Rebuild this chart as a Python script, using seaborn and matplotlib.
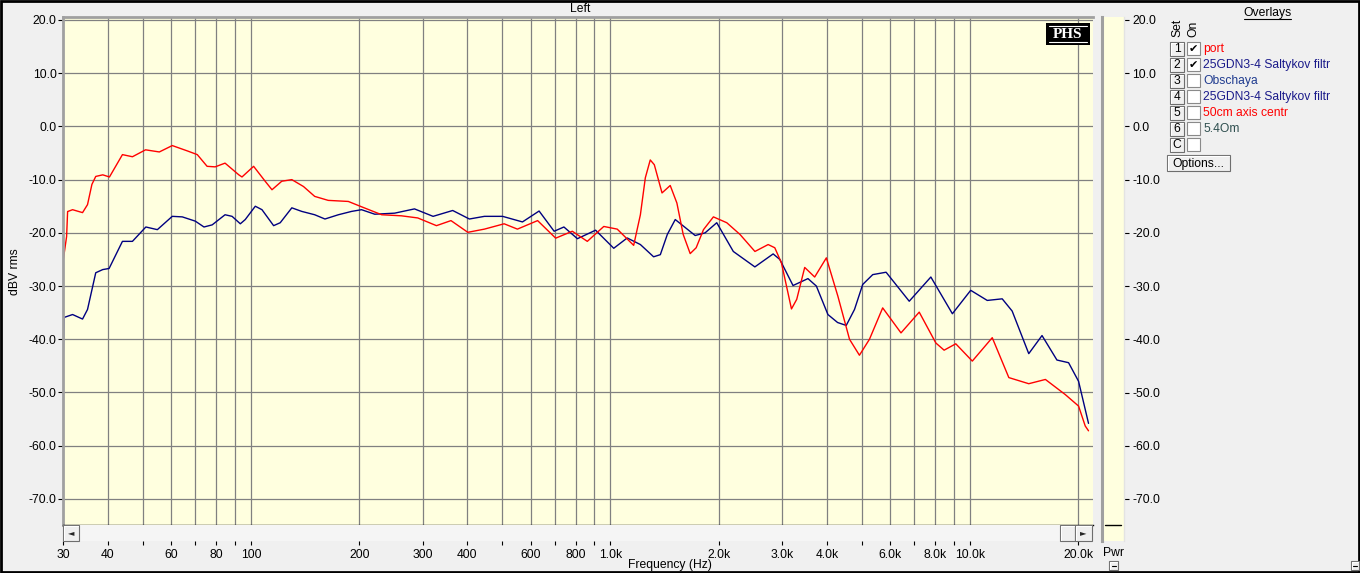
import matplotlib
matplotlib.use('Agg')
import matplotlib.pyplot as plt
import seaborn as sns
from matplotlib.patches import Rectangle
from matplotlib.ticker import NullLocator

# ---------------------- DATA ----------------------
# overlay 1 "port" (red)
red_freq = [30, 30.7, 30.9, 31.9, 34.0, 35.1, 36.1, 37.0, 38.7, 40.4, 43.9, 46.8,
            50.9, 55.6, 60.4, 66.5, 70.9, 75.5, 79.5, 84.7, 92.5, 94.4,
            101.7, 109.5, 114.4, 121.8, 129.9, 140, 150.4, 164, 186.5, 203,
            231, 262, 291, 328, 360, 401, 446, 506, 551, 627,
            704, 783, 862, 958, 1044, 1160, 1211, 1250, 1290, 1324, 1391, 1466, 1530,
            1593, 1666, 1731, 1814, 1933, 2106, 2292, 2522, 2745, 2864, 2989, 3187,
            3296, 3469, 3698, 3985, 4290, 4622, 4925, 5252, 5716, 6427, 7223,
            8035, 8472, 9129, 10148, 11531, 12823, 14568, 16208, 18414, 20044,
            20918, 21362]
red_db = [-25.4, -20.7, -16.0, -15.65, -16.2, -14.7, -10.9, -9.4, -9.1, -9.5, -5.3, -5.7,
          -4.4, -4.8, -3.6, -4.6, -5.3, -7.5, -7.6, -6.9, -9.1, -9.5,
          -7.5, -10.3, -11.9, -10.3, -10.0, -11.3, -13.15, -13.9, -14.1, -15.1,
          -16.6, -16.8, -17.2, -18.65, -17.7, -19.9, -19.3, -18.3, -19.3, -17.7,
          -21.0, -19.7, -21.6, -18.8, -19.3, -22.35, -16.6, -9.65, -6.3, -7.2, -12.5, -11.1, -14.4,
          -20.3, -23.9, -22.8, -19.4, -17.0, -18.1, -20.3, -23.5, -22.2, -22.8, -25.65, -34.3,
          -32.5, -26.5, -28.3, -24.7, -31.9, -40.0, -43.0, -40.0, -34.1, -38.8, -34.9,
          -40.7, -42.05, -40.85, -44.1, -39.7, -47.2, -48.35, -47.55, -50.4, -52.55,
          -56.3, -57.2]

# overlay 2 "25GDN3-4 Saltykov filtr" (navy)
blue_freq = [30, 30.2, 31.9, 34.0, 35.1, 37.0, 38.7, 40.3, 43.9, 46.8,
             51.0, 54.9, 60.4, 64.4, 70.0, 74.0, 78.0, 84.7, 88.6, 93.4,
             96.4, 102.8, 107.3, 115.6, 120.6, 129.9, 138.4, 150.4, 160.6, 175,
             190.5, 203, 221, 251, 285, 321, 364, 405, 446, 501,
             569, 633, 697, 742, 809, 909, 1021, 1113, 1211, 1318, 1376, 1439, 1514,
             1720, 1833, 1975, 2196, 2521, 2834, 2958, 3219, 3542, 3738,
             4025, 4282, 4526, 4772, 5030, 5363, 5842, 6776, 7782, 8933, 10044, 11167,
             12291, 13100, 14568, 15860, 17450, 18800, 20044, 21362]
blue_db = [-45.3, -35.9, -35.35, -36.2, -34.4, -27.5, -26.9, -26.7, -21.6, -21.6,
           -18.9, -19.4, -16.9, -17.0, -17.8, -18.9, -18.5, -16.6, -16.9, -18.3,
           -17.5, -15.0, -15.65, -18.65, -18.1, -15.3, -15.97, -16.6, -17.4, -16.6,
           -15.97, -15.65, -16.5, -16.3, -15.5, -16.9, -15.8, -17.4, -16.9, -16.9,
           -17.95, -15.9, -19.7, -18.9, -21.1, -19.5, -22.9, -20.96, -22.2, -24.5, -24.1, -20.3, -17.5,
           -20.5, -20.0, -18.1, -23.5, -26.4, -23.96, -25.0, -29.9, -28.6, -30.0,
           -35.35, -36.85, -37.4, -34.4, -29.7, -27.85, -27.4, -32.85, -28.3, -35.2, -30.8, -32.7,
           -32.4, -34.7, -42.7, -39.3, -43.9, -44.4, -47.9, -55.8]

grid_freqs = [40, 50, 60, 70, 80, 90, 100, 200, 300, 400, 500, 600, 700, 800, 900,
              1000, 2000, 3000, 4000, 5000, 6000, 7000, 8000, 9000, 10000, 20000]
tick_freqs = [30] + grid_freqs
tick_names = ['30', '40', '', '60', '', '80', '', '100', '200', '300', '400', '', '600', '',
              '800', '', '1.0k', '2.0k', '3.0k', '4.0k', '', '6.0k', '', '8.0k', '', '10.0k', '20.0k']
db_ticks = [20, 10, 0, -10, -20, -30, -40, -50, -60, -70]

overlay_names = ['port', '25GDN3-4 Saltykov filtr', 'Obschaya',
                 '25GDN3-4 Saltykov filtr', '50cm axis centr', '5.4Om', '']
overlay_colors = ['#FF0000', '#1A1A8A', '#1F3B8F', '#1A1A8A', '#FF0000', '#2F4F4F', 'black']
overlay_keys = ['1', '2', '3', '4', '5', '6', 'C']
overlay_on = [True, True, False, False, False, False, False]

# ---------------------- STYLE ----------------------
sns.set_theme(style="white")
plt.rcParams['font.family'] = ['Liberation Sans', 'DejaVu Sans']
plt.rcParams['font.size'] = 8.7

W, H = 1360, 573
BG = '#F0F0F0'
YELLOW = '#FFFFDF'
GRID = '#808080'


def box(x0, y0, x1, y1):
    return [x0 / W, 1 - y1 / H, (x1 - x0) / W, (y1 - y0) / H]


fig = plt.figure(figsize=(13.6, 5.73), dpi=100, facecolor=BG)

XMIN, XMAX = 30, 21984
YTOP, YBOT = 20.56, -74.9

# ---------------------- main plot ----------------------
ax = fig.add_axes(box(63, 17, 1093, 525), facecolor=YELLOW)
ax.set_xscale('log')
sns.lineplot(x=blue_freq, y=blue_db, ax=ax, color='#000080', linewidth=1,
             sort=False, estimator=None)
sns.lineplot(x=red_freq, y=red_db, ax=ax, color='#FF0000', linewidth=1,
             sort=False, estimator=None)
ax.set_xlim(XMIN, XMAX)
ax.set_ylim(YBOT, YTOP)
ax.set_xticks(grid_freqs)
ax.set_xticklabels([])
ax.xaxis.set_minor_locator(NullLocator())
ax.set_yticks(db_ticks)
ax.set_yticklabels([f"{v:.1f}" for v in db_ticks])
ax.tick_params(axis='x', bottom=False, length=0)
ax.tick_params(axis='y', left=True, direction='out', length=3.3, width=0.8,
               color='black', pad=1.2, labelsize=8.7, labelcolor='black')
ax.grid(True, color=GRID, linewidth=0.9)
ax.set_axisbelow(True)
ax.set_xlabel('')
ax.set_ylabel('')
for side in ['left', 'top']:
    ax.spines[side].set_color('#A0A0A0')
    ax.spines[side].set_linewidth(2)
ax.spines['bottom'].set_color('black')
ax.spines['bottom'].set_linewidth(1)
ax.spines['right'].set_visible(False)

# ---------------------- scrollbar + frequency ticks ----------------------
sc = fig.add_axes(box(63, 525, 1093, 541), facecolor='#F5F5F5')
sc.set_xscale('log')
sc.set_xlim(XMIN, XMAX)
sc.set_ylim(0, 1)
sc.set_yticks([])
sc.set_xticks(tick_freqs)
sc.set_xticklabels(tick_names)
sc.xaxis.set_minor_locator(NullLocator())
sc.tick_params(axis='x', bottom=True, direction='out', length=3, width=0.8,
               color='black', pad=2.5, labelsize=8.7, labelcolor='black')
for side in sc.spines:
    sc.spines[side].set_visible(False)

# ---------------------- Pwr bar ----------------------
pw = fig.add_axes(box(1102, 17, 1124, 541), facecolor=YELLOW)
pw.set_xlim(0, 1)
pw.set_ylim(-77.9, YTOP)
pw.set_xticks([])
pw.yaxis.tick_right()
pw.set_yticks(db_ticks)
pw.set_yticklabels([f"{v:.1f}" for v in db_ticks])
pw.tick_params(axis='y', right=True, left=False, direction='out', length=3.5,
               width=0.8, color='black', pad=2.5, labelsize=8.7, labelcolor='black')
pw.axhline(-74.9, xmin=0.14, xmax=0.86, color='black', linewidth=1)
for side in pw.spines:
    pw.spines[side].set_visible(False)
pw.spines['left'].set_visible(True)
pw.spines['left'].set_color('#A0A0A0')
pw.spines['left'].set_linewidth(2.2)
pw.spines['right'].set_visible(True)
pw.spines['right'].set_color('#E3E3E3')
pw.spines['right'].set_linewidth(1)

# ---------------------- overlay for window decorations ----------------------
ov = fig.add_axes([0, 0, 1, 1], zorder=5)
ov.set_xlim(0, W)
ov.set_ylim(H, 0)
ov.axis('off')
ov.patch.set_visible(False)


def button(x0, y0, x1, y1, label, fs=8.7):
    ov.add_patch(Rectangle((x0, y0), x1 - x0, y1 - y0, facecolor='#F0F0F0',
                           edgecolor='#6E6E6E', linewidth=0.8))
    ov.plot([x0 + 1, x0 + 1, x1 - 1], [y1 - 1, y0 + 1, y0 + 1], color='white', linewidth=0.8)
    if label:
        ov.text((x0 + x1) / 2, (y0 + y1) / 2 + 0.5, label, ha='center', va='center',
                fontsize=fs, color='black')


# outer window border
ov.add_patch(Rectangle((1, 0.5), W - 2, H - 1.5, facecolor='none', edgecolor='black', linewidth=2))

ov.text(580, 9, 'Left', ha='center', va='center', fontsize=8.7, color='black')
ov.text(15, 272, 'dBV rms', ha='center', va='center', rotation=90, fontsize=8.7, color='black')
ov.text(670, 565, 'Frequency (Hz)', ha='center', va='center', fontsize=8.7, color='black')
ov.text(1113, 553, 'Pwr', ha='center', va='center', fontsize=8.7, color='black')

# scrollbar buttons
button(63, 525, 79, 541, '')
ov.text(71, 533, '\u25C4', ha='center', va='center', fontsize=6, family=['DejaVu Sans'])
button(1060, 525, 1075, 541, '')
button(1075, 525, 1092, 541, '')
ov.text(1083.5, 533, '\u25BA', ha='center', va='center', fontsize=6, family=['DejaVu Sans'])

# small minimise buttons
button(1109, 561, 1118, 570, '')
ov.plot([1111.5, 1115.5], [566, 566], color='black', linewidth=0.8)
button(1351, 561, 1359, 570, '')
ov.plot([1353, 1357], [566, 566], color='black', linewidth=0.8)

# PHS logo
ov.add_patch(Rectangle((1046, 23), 44, 22, facecolor='black', edgecolor='none'))
ov.text(1068, 34.5, 'PHS', ha='center', va='center', color='white', fontsize=11,
        fontweight='bold', family=['Liberation Serif', 'DejaVu Serif'])
ov.plot([1049, 1087], [25.5, 25.5], color='white', linewidth=0.8)
ov.plot([1049, 1087], [41.5, 41.5], color='white', linewidth=0.8)

# Overlays panel
ov.text(1267, 13, 'Overlays', ha='center', va='center', fontsize=8.7, color='black')
ov.plot([1244, 1290.5], [19, 19], color='black', linewidth=0.8)
ov.text(1177, 37, 'Set', ha='center', va='bottom', rotation=90, fontsize=8.7, color='black')
ov.text(1193, 37, 'On', ha='center', va='bottom', rotation=90, fontsize=8.7, color='black')

for i, (key, name, col, on) in enumerate(zip(overlay_keys, overlay_names,
                                             overlay_colors, overlay_on)):
    yc = 48.5 + 16 * i
    button(1170, yc - 7, 1184, yc + 7, key)
    ov.add_patch(Rectangle((1187, yc - 6.5), 13, 13, facecolor='white',
                           edgecolor='#8A8A8A', linewidth=0.8))
    if on:
        ov.text(1193.5, yc + 0.5, '\u2714', ha='center', va='center', fontsize=8,
                color='black', family=['DejaVu Sans'])
    if name:
        ov.text(1203, yc + 0.5, name, ha='left', va='center', fontsize=8.7, color=col)

button(1167, 155, 1230, 171, 'Options...')

fig.savefig('out.png', dpi=100, facecolor=BG)
